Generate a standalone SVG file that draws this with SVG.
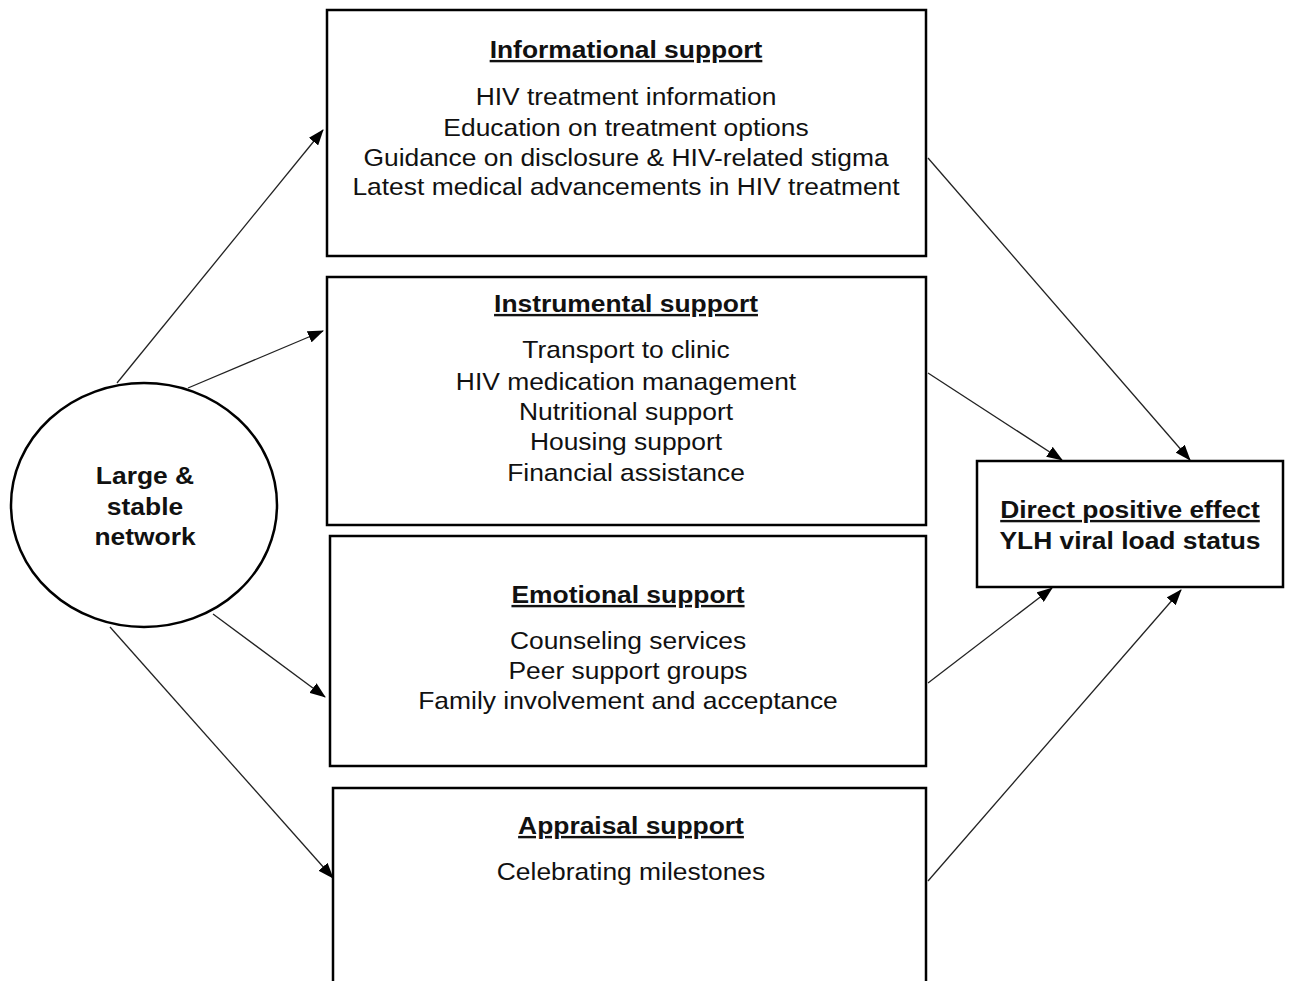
<svg xmlns="http://www.w3.org/2000/svg" width="1291" height="981" viewBox="0 0 1291 981">
<style>
.box{fill:#fff;stroke:#000;stroke-width:2.5}
.t{font-family:"Liberation Sans",Arial,sans-serif;font-size:24px;fill:#111;text-anchor:middle}
.h{font-weight:bold;text-decoration:underline}
.b{font-weight:bold}
.c{stroke:#222;stroke-width:1.3;fill:none;marker-end:url(#ah)}
</style>
<defs>
<marker id="ah" viewBox="0 0 16 12" refX="15" refY="6" markerWidth="16" markerHeight="12" markerUnits="userSpaceOnUse" orient="auto">
<path d="M0,0 L16,6 L0,12 z" fill="#000"/>
</marker>
</defs>
<rect width="1291" height="981" fill="#fff"/>
<g id="connectors">
<line class="c" x1="117" y1="383" x2="323" y2="130"/>
<line class="c" x1="188" y1="388" x2="323" y2="331"/>
<line class="c" x1="213" y1="614" x2="325" y2="697"/>
<line class="c" x1="110" y1="627" x2="333" y2="878"/>
<line class="c" x1="928" y1="158" x2="1190" y2="460"/>
<line class="c" x1="928" y1="373" x2="1062" y2="460"/>
<line class="c" x1="928" y1="683" x2="1052" y2="588"/>
<line class="c" x1="928" y1="881" x2="1181" y2="590"/>
</g>
<g id="network">
<ellipse cx="144" cy="505" rx="133" ry="122" fill="#fff" stroke="#000" stroke-width="2.5"/>
<text class="t b" transform="translate(145,484) scale(1.1,1)">Large &amp;</text>
<text class="t b" transform="translate(145,515) scale(1.1,1)">stable</text>
<text class="t b" transform="translate(145,545) scale(1.1,1)">network</text>
</g>
<g id="informational">
<rect class="box" x="327" y="10" width="599" height="246"/>
<text class="t h" transform="translate(626,58) scale(1.1,1)">Informational support</text>
<text class="t" transform="translate(626,105) scale(1.1,1)">HIV treatment information</text>
<text class="t" transform="translate(626,136) scale(1.1,1)">Education on treatment options</text>
<text class="t" transform="translate(626,166) scale(1.1,1)">Guidance on disclosure &amp; HIV-related stigma</text>
<text class="t" transform="translate(626,195) scale(1.1,1)">Latest medical advancements in HIV treatment</text>
</g>
<g id="instrumental">
<rect class="box" x="327" y="277" width="599" height="248"/>
<text class="t h" transform="translate(626,312) scale(1.1,1)">Instrumental support</text>
<text class="t" transform="translate(626,358) scale(1.1,1)">Transport to clinic</text>
<text class="t" transform="translate(626,390) scale(1.1,1)">HIV medication management</text>
<text class="t" transform="translate(626,420) scale(1.1,1)">Nutritional support</text>
<text class="t" transform="translate(626,450) scale(1.1,1)">Housing support</text>
<text class="t" transform="translate(626,481) scale(1.1,1)">Financial assistance</text>
</g>
<g id="emotional">
<rect class="box" x="330" y="536" width="596" height="230"/>
<text class="t h" transform="translate(628,603) scale(1.1,1)">Emotional support</text>
<text class="t" transform="translate(628,649) scale(1.1,1)">Counseling services</text>
<text class="t" transform="translate(628,679) scale(1.1,1)">Peer support groups</text>
<text class="t" transform="translate(628,709) scale(1.1,1)">Family involvement and acceptance</text>
</g>
<g id="appraisal">
<rect class="box" x="333" y="788" width="593" height="210"/>
<text class="t h" transform="translate(631,834) scale(1.1,1)">Appraisal support</text>
<text class="t" transform="translate(631,880) scale(1.1,1)">Celebrating milestones</text>
</g>
<g id="outcome">
<rect class="box" x="977" y="461" width="306" height="126"/>
<text class="t h" transform="translate(1130,518) scale(1.1,1)">Direct positive effect</text>
<text class="t b" transform="translate(1130,549) scale(1.1,1)">YLH viral load status</text>
</g>
</svg>
